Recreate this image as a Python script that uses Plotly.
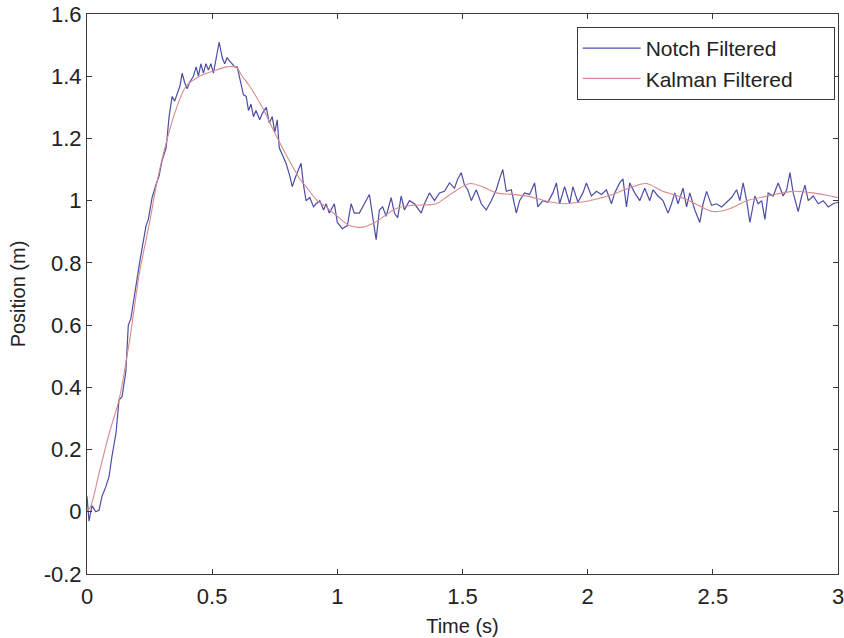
import plotly.graph_objects as go

# Notch filtered (noisy) series
t_notch = [0.0, 0.008, 0.02, 0.035, 0.048, 0.06, 0.075, 0.088, 0.1, 0.116, 0.128, 0.14, 0.155, 0.165,
           0.175, 0.19, 0.21, 0.225, 0.236, 0.245, 0.26, 0.275, 0.288, 0.3, 0.316, 0.328, 0.34, 0.35,
           0.36, 0.372, 0.38, 0.39, 0.4, 0.41, 0.425, 0.436, 0.445, 0.455, 0.465, 0.475, 0.485, 0.495,
           0.505, 0.515, 0.528, 0.54, 0.55, 0.56, 0.568, 0.58, 0.59, 0.6, 0.615, 0.625, 0.636, 0.645,
           0.655, 0.665, 0.675, 0.69, 0.7, 0.716, 0.728, 0.74, 0.75, 0.76, 0.768, 0.78, 0.795, 0.81,
           0.82, 0.835, 0.855, 0.865, 0.875, 0.89, 0.905, 0.915, 0.93, 0.945, 0.955, 0.968,
           0.988, 1.0, 1.02, 1.04, 1.055, 1.068, 1.088, 1.108, 1.128, 1.141, 1.155, 1.168, 1.181, 1.195,
           1.215, 1.228, 1.241, 1.255, 1.268, 1.288, 1.308, 1.335, 1.348, 1.368, 1.388, 1.408, 1.428,
           1.448, 1.468, 1.481, 1.495, 1.508, 1.521, 1.535, 1.555, 1.575, 1.595, 1.615, 1.635,
           1.648, 1.661, 1.675, 1.695, 1.715, 1.728, 1.748, 1.768, 1.788, 1.801, 1.821, 1.841, 1.861,
           1.875, 1.888, 1.908, 1.928, 1.941, 1.961, 1.981, 1.995, 2.015, 2.035, 2.055, 2.075, 2.095,
           2.108, 2.128, 2.141, 2.155, 2.168, 2.188, 2.208, 2.228, 2.248, 2.261, 2.281, 2.301, 2.321,
           2.335, 2.348, 2.361, 2.381, 2.395, 2.408, 2.428, 2.448, 2.461, 2.475, 2.495, 2.515, 2.535,
           2.555, 2.575, 2.595, 2.608, 2.621, 2.635, 2.648, 2.668, 2.681, 2.695, 2.708, 2.721, 2.741,
           2.761, 2.781, 2.795, 2.808, 2.821, 2.841, 2.855, 2.868, 2.881, 2.901, 2.921, 2.941, 2.961,
           2.981, 3.0]
pos_notch = [0.05, -0.03, 0.02, 0.0, 0.005, 0.05, 0.08, 0.113, 0.18, 0.254, 0.36, 0.37, 0.45, 0.6,
             0.62, 0.7, 0.8, 0.87, 0.92, 0.94, 1.01, 1.05, 1.08, 1.13, 1.17, 1.27, 1.335, 1.32,
             1.34, 1.37, 1.41, 1.38, 1.36, 1.38, 1.40, 1.43, 1.40, 1.44, 1.41, 1.44, 1.42, 1.44,
             1.41, 1.45, 1.51, 1.46, 1.44, 1.46, 1.45, 1.44, 1.43, 1.43, 1.38, 1.34, 1.335, 1.29,
             1.31, 1.27, 1.29, 1.26, 1.28, 1.30, 1.25, 1.27, 1.22, 1.26, 1.17, 1.15, 1.12, 1.08,
             1.045, 1.08, 1.12, 1.05, 1.0, 1.01, 0.98, 0.99, 1.0, 0.97, 0.99, 0.96,
             0.99, 0.93, 0.91, 0.92, 0.99, 0.96, 0.96, 0.99, 1.02, 0.95, 0.875, 0.97, 0.98, 0.95,
             1.01, 0.96, 0.945, 1.015, 0.97, 1.0, 0.99, 0.96, 0.99, 1.025, 1.0, 1.025, 1.03,
             1.057, 1.04, 1.07, 1.09, 1.05, 1.035, 1.0, 1.035, 0.99, 0.97, 1.0, 1.035,
             1.07, 1.1, 1.03, 1.035, 0.96, 1.0, 1.025, 1.02, 1.057, 0.98, 1.0, 0.995, 1.025,
             1.057, 0.99, 1.045, 0.99, 1.045, 0.995, 1.025, 1.057, 1.015, 1.03, 1.02, 1.035, 0.99,
             1.025, 1.057, 1.07, 0.98, 1.057, 1.025, 1.0, 1.04, 1.0, 1.035, 1.015, 1.0, 0.96,
             0.99, 1.025, 0.99, 1.04, 0.98, 1.025, 0.97, 0.93, 0.99, 1.03, 0.985, 0.99, 0.98,
             0.995, 1.01, 1.035, 1.0, 1.057, 1.0, 0.93, 1.015, 0.99, 1.0, 0.94, 1.025, 1.015,
             1.057, 1.015, 1.035, 1.09, 1.025, 0.965, 1.015, 1.05, 1.0, 1.015, 0.99, 1.0, 0.98,
             0.99, 0.995]

# Kalman filtered (smooth) series
t_kalman = [0.0, 0.016, 0.05, 0.088, 0.128, 0.17, 0.21, 0.25, 0.276, 0.308, 0.35, 0.395, 0.45, 0.515,
            0.56, 0.595, 0.62, 0.648, 0.7, 0.755, 0.8, 0.85, 0.875, 0.92, 0.955, 1.0, 1.048, 1.1,
            1.15, 1.235, 1.3, 1.395, 1.45, 1.53, 1.58, 1.635, 1.7, 1.768, 1.83, 1.9, 1.968, 2.008,
            2.1, 2.18, 2.235, 2.3, 2.368, 2.43, 2.5, 2.57, 2.635, 2.72, 2.82, 2.9, 2.98, 3.0]
pos_kalman = [0.0, 0.02, 0.13, 0.25, 0.36, 0.55, 0.77, 0.93, 1.045, 1.16, 1.28, 1.367, 1.40, 1.42,
              1.43, 1.43, 1.40, 1.37, 1.30, 1.21, 1.14, 1.07, 1.045, 1.0, 0.98, 0.95, 0.92, 0.915,
              0.93, 0.975, 0.985, 0.99, 1.02, 1.055, 1.045, 1.025, 1.02, 1.013, 1.0, 0.99, 0.995, 1.0,
              1.02, 1.045, 1.055, 1.03, 1.013, 0.99, 0.965, 0.975, 1.0, 1.015, 1.03, 1.025, 1.013, 1.01]

x_tick_vals = [0, 0.5, 1, 1.5, 2, 2.5, 3]
x_tick_text = ["0", "0.5", "1", "1.5", "2", "2.5", "3"]
y_tick_vals = [-0.2, 0, 0.2, 0.4, 0.6, 0.8, 1.0, 1.2, 1.4, 1.6]
y_tick_text = ["-0.2", "0", "0.2", "0.4", "0.6", "0.8", "1", "1.2", "1.4", "1.6"]

FONT = "Liberation Sans, Arial, sans-serif"
AX = "#3a3a3a"
PAD = "\u00a0\u00a0\u00a0\u00a0\u00a0\u00a0"

fig = go.Figure()
fig.add_trace(go.Scatter(x=t_notch, y=pos_notch, mode="lines", name="Notch Filtered",
                         line=dict(color="#4d4da8", width=1.2)))
fig.add_trace(go.Scatter(x=t_kalman, y=pos_kalman, mode="lines", name="Kalman Filtered" + PAD,
                         line=dict(color="#d98a8a", width=1.1, shape="spline", smoothing=0.8)))

axis_common = dict(showline=True, linecolor=AX, linewidth=1, mirror="ticks", ticks="inside",
                   ticklen=5, tickcolor=AX, showgrid=False, zeroline=False, automargin=False,
                   ticklabeloverflow="allow",
                   tickfont=dict(family=FONT, size=22, color="#222"))

fig.update_layout(
    width=844, height=638,
    margin=dict(l=87, r=6, t=14, b=64),
    paper_bgcolor="white", plot_bgcolor="white",
    font=dict(family=FONT, size=21, color="#222"),
    xaxis=dict(range=[0, 3], tickvals=x_tick_vals, ticktext=x_tick_text, ticklabelstandoff=3,
               title=dict(text="Time (s)", font=dict(family=FONT, size=20), standoff=10),
               **axis_common),
    yaxis=dict(range=[-0.2, 1.6], tickvals=y_tick_vals, ticktext=y_tick_text,
               title=dict(text="Position (m)", font=dict(family=FONT, size=20), standoff=12),
               **axis_common),
    legend=dict(x=0.652, y=0.977, xanchor="left", yanchor="top",
                bgcolor="white", bordercolor=AX, borderwidth=1,
                font=dict(family=FONT, size=21, color="#222"),
                itemwidth=58, tracegroupgap=0),
    showlegend=True,
)

fig.write_html("out.html", config={"displayModeBar": False},
               post_script="document.body.style.margin='0';")
